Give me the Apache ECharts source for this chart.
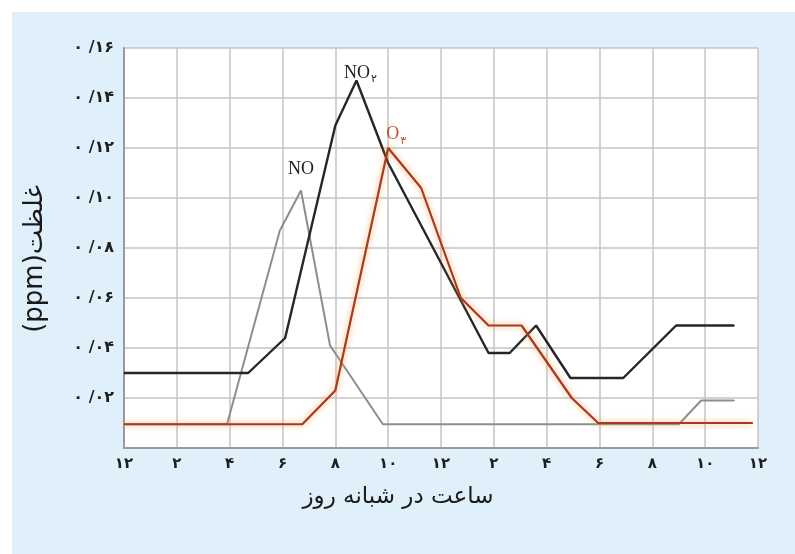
<!DOCTYPE html>
<html>
<head>
<meta charset="utf-8">
<script src="https://cdn.jsdelivr.net/npm/echarts@6/dist/echarts.min.js"></script>
<style>
  html, body { margin: 0; padding: 0; background: #ffffff; }
  #panel { position: absolute; left: 12px; top: 12px; width: 783px; height: 542px; background: #dff0fa; }
  #chart { position: absolute; left: 0; top: 0; width: 795px; height: 554px; }
</style>
</head>
<body>
<div id="panel"></div>
<div id="chart"></div>
<script>
// ---- data ----
const xTickHours = [0, 2, 4, 6, 8, 10, 12, 14, 16, 18, 20, 22, 24];
const yTickValues = [0.02, 0.04, 0.06, 0.08, 0.10, 0.12, 0.14, 0.16];

const noHours   = [0, 3.9, 5.9, 6.7, 7.8, 9.8, 21.0, 21.85, 23.1];
const noValues  = [0.0095, 0.0095, 0.087, 0.103, 0.041, 0.0095, 0.0095, 0.019, 0.019];

const no2Hours  = [0, 4.7, 6.1, 8.0, 8.8, 10.0, 13.8, 14.6, 15.6, 16.9, 18.9, 20.9, 23.1];
const no2Values = [0.030, 0.030, 0.044, 0.129, 0.147, 0.114, 0.038, 0.038, 0.049, 0.028, 0.028, 0.049, 0.049];

const o3Hours   = [0, 6.75, 8.0, 10.0, 11.25, 12.75, 13.8, 15.05, 16.95, 17.95, 23.8];
const o3Values  = [0.0095, 0.0095, 0.023, 0.120, 0.104, 0.060, 0.049, 0.049, 0.020, 0.010, 0.010];

const xTitle = 'ساعت در شبانه روز';
const yTitle = '(ppm)غلظت';

// ---- helpers ----
const faDigits = ['۰','۱','۲','۳','۴','۵','۶','۷','۸','۹'];
function toFa(s) { return String(s).replace(/[0-9]/g, d => faDigits[+d]); }
function hourLabel(h) { const v = h % 12 === 0 ? 12 : h % 12; return toFa(v); }
function valueLabel(v) {
  const hundredths = Math.round(v * 100);
  const s = hundredths < 10 ? '0' + hundredths : String(hundredths);
  return toFa('0') + ' /' + toFa(s);
}

function buildData(hours, values, peakLabel) {
  let peak = 0;
  values.forEach((v, i) => { if (v > values[peak]) peak = i; });
  return hours.map((h, i) => {
    const item = { value: [h, values[i]] };
    if (i === peak && peakLabel) item.label = peakLabel;
    return item;
  });
}

const serif = '"Liberation Serif", "DejaVu Serif", serif';
const fa = '"DejaVu Sans", "Noto Sans", sans-serif';

const chart = echarts.init(document.getElementById('chart'), null, { renderer: 'canvas' });

function lineSeries(name, hours, values, color, width, z, label, extraLine) {
  return {
    name: name, type: 'line', z: z,
    symbol: 'circle', symbolSize: 1, showSymbol: true, showAllSymbol: true,
    itemStyle: { color: color },
    label: { show: false },
    emphasis: { disabled: true },
    lineStyle: Object.assign({ color: color, width: width }, extraLine || {}),
    data: buildData(hours, values, label)
  };
}

function subRich(color) {
  return {
    b: { fontFamily: serif, fontSize: 18, lineHeight: 18, color: color, verticalAlign: 'top' },
    s: { fontFamily: fa, fontSize: 11, lineHeight: 11, color: color, padding: [10, 0, 0, 1], verticalAlign: 'top' }
  };
}

const option = {
  animation: false,
  backgroundColor: 'transparent',
  grid: {
    left: 124, right: 37, top: 48, bottom: 106,
    show: true, backgroundColor: '#ffffff', borderWidth: 0
  },
  xAxis: {
    type: 'value', min: 0, max: 24, interval: 2,
    axisLine: { show: true, lineStyle: { color: '#9a9a9a', width: 2 } },
    axisTick: { show: false },
    splitLine: { show: true, lineStyle: { color: '#c4c4c4', width: 1.5 } },
    axisLabel: {
      margin: 9, color: '#1e1e1e', fontSize: 15, fontWeight: 'bold', fontFamily: fa,
      formatter: v => xTickHours.indexOf(v) >= 0 ? hourLabel(v) : ''
    }
  },
  yAxis: {
    type: 'value', min: 0, max: 0.16, interval: 0.02,
    axisLine: { show: true, lineStyle: { color: '#9a9a9a', width: 2 } },
    axisTick: { show: false },
    splitLine: { show: true, lineStyle: { color: '#c4c4c4', width: 1.5 } },
    axisLabel: {
      margin: 10, color: '#1e1e1e', fontSize: 16, fontWeight: 'bold', fontFamily: fa,
      showMinLabel: false,
      formatter: v => yTickValues.some(t => Math.abs(t - v) < 1e-9) ? valueLabel(v) : ''
    }
  },
  graphic: [
    {
      type: 'text', x: 398, y: 497,
      style: { text: xTitle, fill: '#1a1a1a', font: '23px ' + fa, align: 'center', verticalAlign: 'middle' }
    },
    {
      type: 'text', x: 35, y: 259, rotation: Math.PI / 2,
      style: { text: yTitle, fill: '#1a1a1a', font: '26px ' + fa, align: 'center', verticalAlign: 'middle' }
    }
  ],
  series: [
    lineSeries('NO', noHours, noValues, '#8e8e8e', 2, 2, {
      show: true, position: 'top', distance: 12, color: '#222',
      fontFamily: serif, fontSize: 18, formatter: 'NO'
    }),
    lineSeries('NO2', no2Hours, no2Values, '#262626', 2.4, 3, {
      show: true, position: 'top', distance: -2, offset: [4, 0], color: '#222',
      formatter: '{b|NO}{s|' + toFa(2) + '}',
      rich: subRich('#222')
    }),
    lineSeries('O3', o3Hours, o3Values, '#a83a1e', 2.2, 4, {
      show: true, position: 'top', distance: 4, offset: [8, 0], color: '#c5502c',
      formatter: '{b|O}{s|' + toFa(3) + '}',
      rich: subRich('#c5502c')
    }, { shadowColor: 'rgba(255,150,70,0.85)', shadowBlur: 6 })
  ]
};
chart.setOption(option);
</script>
</body>
</html>
